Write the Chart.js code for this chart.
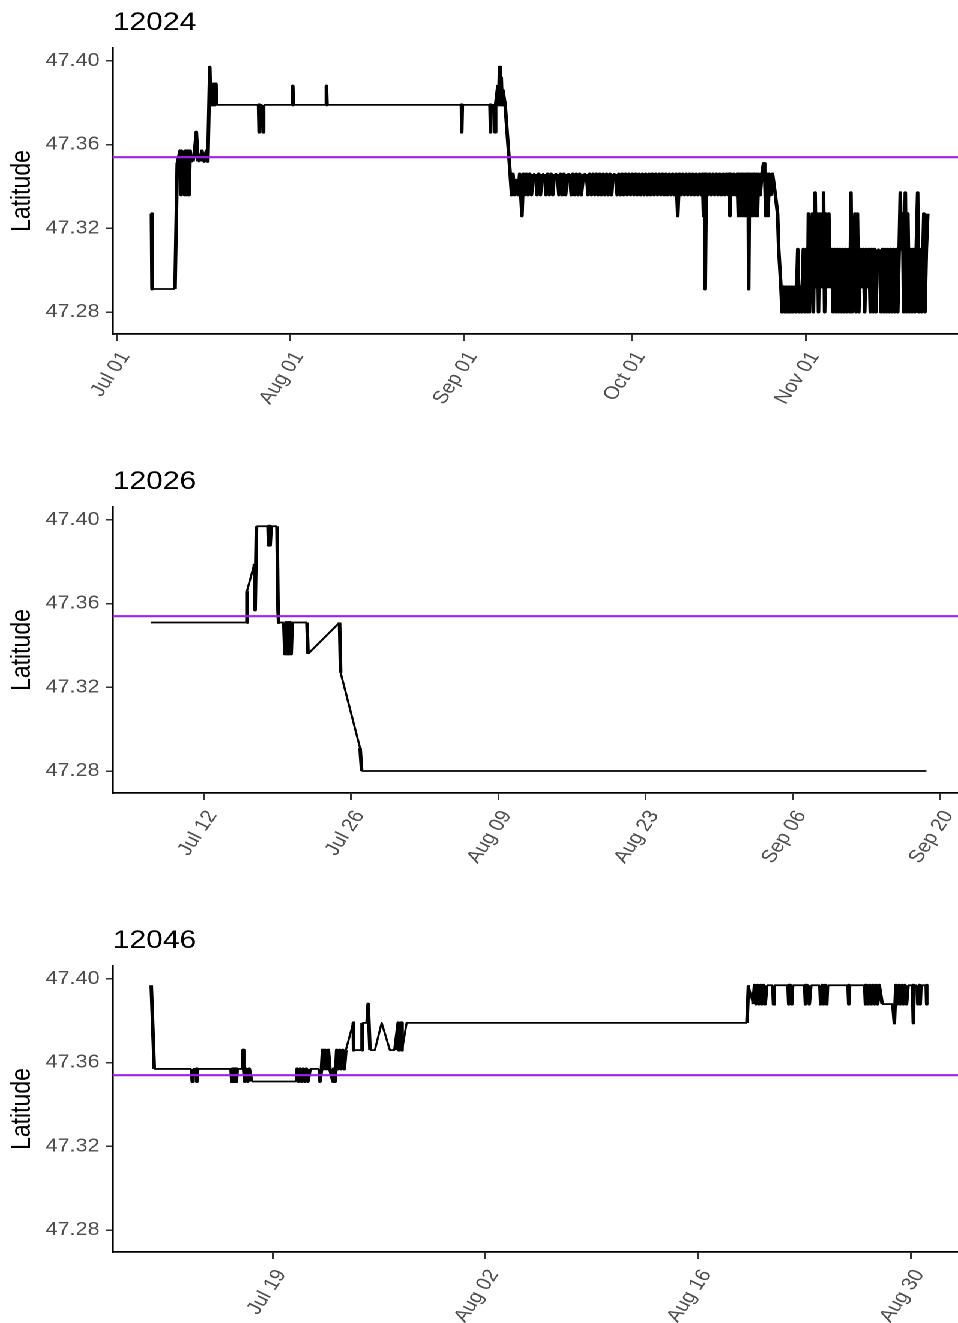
<!DOCTYPE html>
<html><head><meta charset="utf-8">
<script src="https://cdn.jsdelivr.net/npm/chart.js@4/dist/chart.umd.min.js"></script>
<style>
html,body{margin:0;padding:0;background:#fff;overflow:hidden;width:958px;height:1323px;}
#wrap{position:absolute;left:0;top:0;width:798px;height:1323px;transform:scaleX(1.2005);transform-origin:0 0;}
canvas{position:absolute;left:0;}
</style></head><body>
<div id="wrap">
<canvas id="c0" width="798" height="459" style="top:0px"></canvas>
<canvas id="c1" width="798" height="459" style="top:459px"></canvas>
<canvas id="c2" width="798" height="405" style="top:918px"></canvas>
</div>
<script>
// x values are day-of-year (Jul 01 = 182)
const panelTitles = ['12024', '12026', '12046'];
const yAxisTitle = 'Latitude';
const refLatitude = 47.354;
const yTicks = [47.28, 47.32, 47.36, 47.40];
const yRange = [47.2695, 47.4062];

const xRange12024 = [181.3, 332.1];
const xTicks12024 = [182, 213, 244, 274, 305];
const xLabels12024 = ['Jul 01', 'Aug 01', 'Sep 01', 'Oct 01', 'Nov 01'];

const xRange12026 = [184.35, 264.7];
const xTicks12026 = [193, 207, 221, 235, 249, 263];
const xLabels12026 = ['Jul 12', 'Jul 26', 'Aug 09', 'Aug 23', 'Sep 06', 'Sep 20'];

const xRange12046 = [189.47, 245.09];
const xTicks12046 = [200, 214, 228, 242];
const xLabels12046 = ['Jul 19', 'Aug 02', 'Aug 16', 'Aug 30'];

const track12024 = [
[188.2,47.327],[188.3,47.291],[192.4,47.291],[192.8,47.351],[193.3,47.357],[193.5,47.336],[193.7,47.357],[193.9,47.357],
[194.1,47.336],[194.3,47.357],[194.5,47.336],[194.7,47.357],[194.9,47.336],[195.1,47.357],[195.3,47.352],[195.6,47.352],
[195.9,47.357],[196.2,47.366],[196.5,47.352],[196.8,47.352],[197.2,47.357],[197.6,47.352],[198.0,47.357],[198.25,47.352],
[198.6,47.397],[198.75,47.379],[198.9,47.389],[199.1,47.379],[199.3,47.389],[199.5,47.379],[199.7,47.389],[199.8,47.379],
[207.3,47.379],[207.4,47.366],[207.5,47.379],[208.0,47.379],[208.1,47.366],[208.2,47.379],[213.3,47.379],[213.4,47.388],
[213.5,47.379],[219.3,47.379],[219.4,47.388],[219.5,47.379],[243.5,47.379],[243.55,47.366],[243.65,47.379],[248.6,47.379],
[248.7,47.366],[248.8,47.379],[249.4,47.379],[249.5,47.366],[249.6,47.379],[250.0,47.388],[250.15,47.379],[250.3,47.397],
[250.45,47.379],[250.6,47.392],[250.75,47.379],[250.9,47.386],[251.3,47.379],[251.9,47.357],[252.2,47.346],[252.45,47.336],
[252.7,47.346],[253.0,47.336],[253.25,47.343],[253.6,47.336],[253.9,47.346],[254.3,47.326],[254.55,47.346],
[254.8,47.336],[255.1,47.346],[255.4,47.336],[255.7,47.346],[256.0,47.336],[256.3,47.346],[256.7,47.346],[257.0,47.336],
[257.3,47.346],[257.6,47.336],[257.9,47.346],[258.3,47.346],[258.6,47.336],[258.9,47.346],[259.2,47.336],[259.5,47.346],
[259.8,47.336],[260.1,47.346],[260.6,47.346],[260.9,47.336],[261.2,47.346],[261.5,47.336],[261.8,47.346],[262.1,47.336],
[262.4,47.346],[262.8,47.346],[263.1,47.336],[263.4,47.346],[263.7,47.336],[264.0,47.346],[264.3,47.336],[264.6,47.346],
[264.9,47.336],[265.3,47.346],[265.8,47.346],[266.1,47.336],[266.4,47.346],[266.7,47.336],[267.0,47.346],[267.3,47.336],
[267.6,47.346],[267.9,47.336],[268.2,47.346],[268.5,47.336],[268.8,47.346],[269.1,47.336],[269.4,47.346],[269.7,47.336],
[270.0,47.346],[270.3,47.336],[270.6,47.346],[271.0,47.346],[271.3,47.336],
[271.6,47.346],[271.9,47.336],[272.2,47.346],[272.5,47.336],[272.8,47.346],[273.1,47.336],[273.4,47.346],[273.7,47.336],
[274.0,47.346],[274.3,47.336],[274.6,47.346],[274.9,47.336],[275.2,47.346],[275.5,47.336],[275.8,47.346],[276.1,47.336],
[276.4,47.346],[276.7,47.336],[277.0,47.346],[277.3,47.336],[277.6,47.346],[277.9,47.336],[278.2,47.346],[278.5,47.336],
[278.8,47.346],[279.1,47.336],[279.4,47.346],[279.7,47.336],[280.0,47.346],[280.3,47.336],[280.6,47.346],[280.9,47.336],
[281.2,47.346],[281.5,47.336],[281.8,47.346],[282.1,47.326],[282.4,47.346],[282.7,47.336],[283.0,47.346],[283.3,47.336],
[283.6,47.346],[283.9,47.336],[284.2,47.346],[284.5,47.336],[284.8,47.346],[285.1,47.336],[285.4,47.346],[285.7,47.336],
[286.0,47.346],[286.3,47.336],[286.5,47.346],[286.7,47.326],[286.85,47.346],[287.0,47.291],[287.2,47.346],[287.5,47.336],
[287.8,47.346],[288.1,47.336],[288.4,47.346],[288.7,47.336],[289.0,47.346],[289.3,47.336],[289.6,47.346],[289.9,47.336],
[290.2,47.346],[290.5,47.336],[290.8,47.346],[291.1,47.336],[291.25,47.346],[291.4,47.326],[291.55,47.346],[291.8,47.336],
[292.1,47.346],[292.4,47.336],[292.7,47.346],[292.9,47.326],[293.1,47.346],[293.3,47.326],[293.5,47.346],[293.7,47.326],
[293.9,47.346],[294.1,47.326],[294.3,47.346],[294.5,47.326],[294.65,47.346],[294.75,47.291],[294.9,47.346],[295.1,47.326],
[295.3,47.346],[295.5,47.326],[295.7,47.346],[295.9,47.326],[296.1,47.346],[296.3,47.326],[296.5,47.346],[296.8,47.336],
[297.1,47.346],[297.4,47.351],[297.6,47.346],[297.8,47.326],[298.0,47.346],[298.2,47.326],[298.4,47.346],[298.7,47.336],
[299.0,47.346],
[299.5,47.336],[299.9,47.327],[300.1,47.310],[300.5,47.292],
[300.7,47.280],[300.95,47.292],[301.2,47.280],[301.45,47.292],[301.7,47.280],[301.95,47.292],[302.2,47.280],[302.45,47.292],
[302.7,47.280],[302.95,47.292],[303.2,47.280],[303.5,47.310],[303.75,47.280],[304.0,47.292],[304.2,47.280],[304.5,47.310],
[304.75,47.280],[305.0,47.310],[305.25,47.280],[305.4,47.327],[305.6,47.280],[305.85,47.310],[306.1,47.327],[306.3,47.280],
[306.6,47.337],[306.8,47.292],[307.0,47.327],[307.2,47.280],[307.45,47.327],[307.7,47.292],[307.9,47.327],[308.1,47.337],
[308.3,47.280],[308.55,47.327],[308.8,47.292],[309.05,47.327],[309.3,47.292],[309.55,47.310],[309.8,47.280],[310.05,47.310],
[310.3,47.280],[310.55,47.310],[310.8,47.280],[311.05,47.310],[311.3,47.280],[311.55,47.310],[311.8,47.280],[312.05,47.310],
[312.3,47.280],[312.55,47.310],[312.8,47.280],[313.0,47.337],[313.2,47.280],[313.45,47.310],[313.7,47.327],[313.9,47.280],
[314.15,47.327],[314.4,47.280],[314.7,47.310],[314.95,47.292],[315.2,47.310],[315.45,47.280],[315.7,47.310],[315.95,47.292],
[316.2,47.310],[316.45,47.280],[316.7,47.310],[316.95,47.280],[317.2,47.310],[317.45,47.280],[317.7,47.310],[318.1,47.310],
[318.35,47.280],[318.6,47.310],[318.85,47.280],[319.1,47.310],[319.35,47.280],[319.6,47.310],[319.85,47.280],[320.1,47.310],
[320.35,47.280],[320.6,47.310],[320.85,47.280],[321.1,47.310],[321.35,47.280],[321.6,47.310],[321.8,47.337],[322.0,47.310],
[322.2,47.327],[322.4,47.280],[322.7,47.337],[322.9,47.280],[323.15,47.327],[323.4,47.280],[323.65,47.310],[323.9,47.280],
[324.15,47.310],[324.4,47.280],[324.65,47.310],[324.9,47.337],[325.1,47.280],[325.35,47.310],[325.6,47.280],[325.85,47.310],
[326.0,47.327],[326.2,47.280],[326.45,47.310],[326.7,47.327]
];

const track12026 = [
[188.0,47.351],[197.05,47.351],[197.1,47.366],[197.8,47.379],[197.87,47.357],[198.0,47.397],[199.1,47.397],[199.15,47.388],
[199.25,47.397],[199.3,47.388],[199.4,47.397],[199.95,47.397],[200.05,47.357],[200.1,47.351],[200.6,47.351],[200.7,47.336],
[200.8,47.351],[200.9,47.336],[201.0,47.351],[201.1,47.336],[201.2,47.351],[201.3,47.336],[201.4,47.351],[202.8,47.351],
[202.9,47.336],[205.9,47.351],[206.0,47.327],[207.85,47.291],[208.0,47.280],[261.7,47.280]
];

const track12046 = [
[192.0,47.397],[192.2,47.357],[194.65,47.357],[194.7,47.351],[194.75,47.357],[194.95,47.357],[195.0,47.351],[195.05,47.357],
[197.25,47.357],[197.3,47.351],[197.35,47.357],[197.4,47.351],[197.45,47.357],[197.5,47.351],[197.55,47.357],[197.6,47.351],
[197.65,47.357],[198.0,47.357],[198.04,47.366],[198.08,47.357],[198.15,47.351],[198.25,47.357],[198.35,47.351],[198.45,47.357],
[198.6,47.351],[201.55,47.351],[201.6,47.357],[201.7,47.351],[201.8,47.357],[201.9,47.351],[202.0,47.357],[202.1,47.351],
[202.2,47.357],[202.3,47.351],[202.45,47.357],[203.05,47.357],[203.1,47.351],[203.2,47.357],[203.27,47.366],[203.35,47.357],
[203.45,47.366],[203.55,47.357],[203.65,47.366],[203.75,47.357],[203.95,47.351],[204.0,47.357],[204.1,47.351],[204.2,47.366],
[204.3,47.357],[204.4,47.366],[204.5,47.357],[204.6,47.366],[204.7,47.357],[204.8,47.366],[205.29,47.379],[205.31,47.366],
[205.84,47.366],[205.87,47.379],[206.2,47.379],[206.27,47.388],[206.39,47.366],[206.71,47.366],[207.16,47.379],[207.70,47.366],
[208.03,47.366],[208.25,47.379],[208.3,47.366],[208.45,47.379],[208.5,47.366],[208.8,47.379],[231.2,47.379],[231.3,47.397],
[231.6,47.388],[231.7,47.397],[231.8,47.388],[231.9,47.397],[232.0,47.388],[232.1,47.397],[232.2,47.388],[232.3,47.397],
[232.4,47.388],[232.5,47.397],[232.9,47.397],[232.95,47.388],[233.0,47.397],[233.9,47.397],[233.95,47.388],[234.05,47.397],
[234.15,47.388],[234.2,47.397],[235.0,47.397],[235.05,47.388],[235.15,47.397],[235.3,47.388],[235.4,47.397],[236.0,47.397],
[236.05,47.388],[236.15,47.397],[236.25,47.388],[236.35,47.397],[236.45,47.388],[236.5,47.397],[237.85,47.397],[237.9,47.388],
[237.95,47.397],[238.95,47.397],[239.0,47.388],[239.1,47.397],[239.2,47.388],[239.3,47.397],[239.4,47.388],[239.5,47.397],
[239.6,47.388],[239.7,47.397],[239.8,47.388],[239.9,47.397],[240.1,47.388],[240.8,47.388],[240.9,47.379],[241.0,47.397],
[241.1,47.388],[241.2,47.397],[241.3,47.388],[241.4,47.397],[241.5,47.388],[241.6,47.397],[241.7,47.388],[241.8,47.397],
[242.1,47.397],[242.15,47.379],[242.2,47.397],[242.4,47.397],[242.45,47.388],[242.55,47.397],[242.6,47.388],[242.65,47.397],
[243.0,47.397],[243.03,47.388]
];

const FONT = '"Liberation Sans", Arial, Helvetica, sans-serif';

// near-vertical runs of the track are drawn slightly heavier so dense fixes read as solid
function segWidth(ctx) {
  const dx = Math.abs(ctx.p1.x - ctx.p0.x), dy = Math.abs(ctx.p1.y - ctx.p0.y);
  return (dx < 3 && dy > 4) ? 3.0 : 1.8;
}

function makeChart(id, title, track, xr, xt, xl) {
  const cv = document.getElementById(id);
  const H = cv.height;
  return new Chart(cv, {
    type: 'line',
    data: { datasets: [
      { data: [{x: xr[0], y: refLatitude}, {x: xr[1], y: refLatitude}],
        borderColor: '#A020F0', borderWidth: 2.2, pointRadius: 0, order: 0 },
      { data: track.map(p => ({x: p[0], y: p[1]})),
        borderColor: '#000000', borderWidth: 1.8, pointRadius: 0, tension: 0,
        borderJoinStyle: 'round', borderCapStyle: 'butt', order: 1,
        segment: { borderWidth: segWidth } }
    ]},
    options: {
      responsive: false, animation: false, devicePixelRatio: 2,
      layout: { padding: 0 },
      events: [],
      plugins: {
        legend: { display: false }, tooltip: { enabled: false },
        title: { display: true, text: title, align: 'start', fullSize: false, color: '#000',
          font: { family: FONT, size: 25, weight: 'normal' }, padding: { top: 8, bottom: 10 } }
      },
      scales: {
        x: { type: 'linear', min: xr[0], max: xr[1],
          afterBuildTicks: s => { s.ticks = xt.map(v => ({ value: v })); },
          afterFit: s => { s.height = H - 334; s.paddingLeft = 0; s.paddingRight = 0; },
          ticks: { autoSkip: false, minRotation: 60, maxRotation: 60, padding: 7, labelOffset: 7,
            color: '#4d4d4d', font: { family: FONT, size: 18 }, callback: (v, i) => xl[i] },
          grid: { drawOnChartArea: false, drawTicks: true, tickLength: 7, color: '#333333', lineWidth: 1.5 },
          border: { display: true, color: '#000000', width: 1.8 } },
        y: { type: 'linear', min: yRange[0], max: yRange[1],
          afterBuildTicks: s => { s.ticks = yTicks.map(v => ({ value: v })); },
          afterFit: s => { s.width = 94; },
          ticks: { padding: 5, color: '#4d4d4d', font: { family: FONT, size: 18 },
            callback: v => Number(v).toFixed(2) },
          grid: { drawOnChartArea: false, drawTicks: true, tickLength: 6, color: '#333333', lineWidth: 1.5 },
          border: { display: true, color: '#000000', width: 1.8 },
          title: { display: true, text: yAxisTitle, color: '#000', font: { family: FONT, size: 23 },
            padding: { top: 5, bottom: 0 } } }
      }
    }
  });
}

makeChart('c0', panelTitles[0], track12024, xRange12024, xTicks12024, xLabels12024);
makeChart('c1', panelTitles[1], track12026, xRange12026, xTicks12026, xLabels12026);
makeChart('c2', panelTitles[2], track12046, xRange12046, xTicks12046, xLabels12046);
</script>
</body></html>
